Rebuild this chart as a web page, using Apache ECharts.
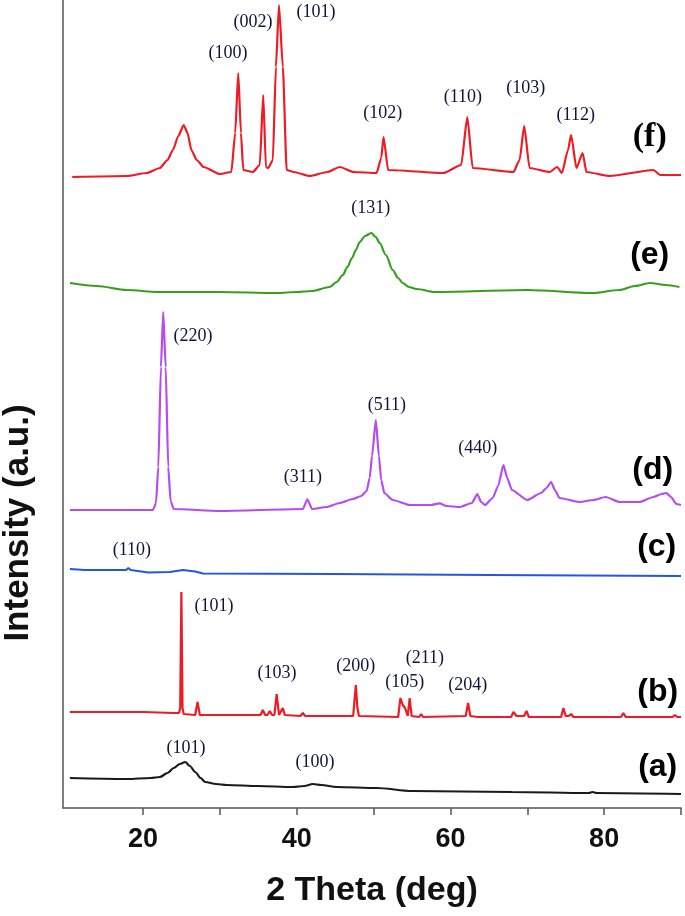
<!DOCTYPE html>
<html><head><meta charset="utf-8">
<script src="https://cdn.jsdelivr.net/npm/echarts@6/dist/echarts.min.js"></script>
<style>html,body{margin:0;padding:0;background:#fff}#c{width:685px;height:916px}</style>
</head><body><div id="c"></div>
<script>
// x-axis tick labels
const xTicks = [20, 30, 40, 50, 60, 70, 80, 90];
const xLabels = [20, 40, 60, 80];

// XRD patterns: [2theta, stacked intensity (a.u.)]
const traceA = [[10.5,30],[17.9,29],[21,30],[22.2,31],[23.2,35],[24,40],[24.8,44],[25.5,46],[26.1,42],[26.8,36],[27.5,30],[28.1,26],[29.5,24],[30.9,23],[35,22],[39.5,21],[41,22],[42.1,24],[43.2,23],[45.2,21],[50.4,20],[55,17],[68,16],[78,15],[78.5,16],[79,15],[90,14]];

const traceB = [[10.5,96],[20,96],[24,95],[24.7,95],[24.85,100],[25.0,216],[25.15,100],[25.3,94],[26.8,93],[27.1,106],[27.4,93],[35.3,93],[35.6,98],[35.9,93],[36.2,93],[36.5,97],[36.8,93],[37.1,93],[37.4,114],[37.7,93],[37.95,93],[38.2,100],[38.45,93],[40.5,92],[40.8,95],[41.1,92],[47.35,92],[47.7,123],[47.9,100],[48.1,92],[53.2,91],[53.5,110],[53.8,103],[54.1,100],[54.45,92],[54.7,110],[54.95,92],[55.95,91],[56.2,94],[56.45,91],[62.0,92],[62.3,105],[62.6,92],[63.5,91],[63.7,93],[63.9,91],[67.9,91],[68.2,96],[68.6,92],[69.6,92],[69.9,97],[70.2,91],[74.4,91],[74.7,100],[75.0,92],[75.4,92],[75.7,94],[76.0,91],[82.2,91],[82.5,95],[82.8,91],[88.9,91],[89.2,93],[89.5,91],[90,91]];

const traceC = [[10.5,239],[12.4,238],[17.8,238],[18.1,240],[18.4,238],[20.7,235.5],[23.5,236],[25.2,238],[26.8,236.5],[27.8,234.5],[45,234],[45.2,233.5],[65,233],[65.2,232],[90,232]];

const traceD = [[10.5,298],[15,298],[21.3,298],[21.7,305],[22.0,341],[22.34,441],[22.64,496],[22.96,441],[23.29,341],[23.6,307],[24.0,299],[30,297],[40.8,299],[41.4,308.7],[42.0,299],[43.9,301],[45.6,305],[47.3,309],[48.4,312],[49.1,317],[49.5,330],[49.8,352],[50.3,388],[50.7,352],[51.0,328],[51.4,315],[52.5,308],[54.7,303],[57.5,303],[58.6,304.7],[59.5,302],[61.2,301],[62.8,305],[63.5,314],[64.0,306],[64.5,303],[65.5,310],[66.2,322],[66.9,343],[67.4,330],[68.0,318],[70.0,308],[71.8,315],[72.5,320],[73.1,326],[73.6,318],[74.2,310],[76.8,306],[78.6,308],[80.2,311],[82.0,306],[84.6,306],[86.4,311],[87.5,314],[88.1,315],[88.7,311],[89.4,304],[90,303]];

const traceE = [[10.5,525],[14,522],[17.9,518],[22,516],[30,516],[37.4,515],[40,516],[42,517],[44.3,521],[45.2,526],[46,533],[46.6,541],[47.2,550],[47.7,558],[48.2,566],[48.9,572],[49.7,575],[50.3,571],[50.8,565],[51.6,553],[52.5,538],[53.2,530],[53.8,525],[54.6,521],[55.6,519],[58,516],[70,518],[78.5,515],[82,518],[84,522],[86,525],[88,523],[89.8,521]];

const traceF = [[10.8,631],[17.9,632],[20.5,635],[22.2,640],[23.2,648],[23.9,658],[24.6,672],[25.3,683],[25.8,675],[26.3,658],[27.0,648],[27.9,641],[30.0,634],[31.5,636],[32.0,675],[32.4,735],[32.75,675],[33.05,638],[34.3,636],[35.2,643],[35.65,713],[36.0,641],[36.3,640],[36.9,648],[37.3,741],[37.7,803],[38.2,741],[38.7,638],[39.6,636],[41.7,632],[44,636],[45.6,641],[47.4,636],[50.4,635],[51.0,650],[51.3,671],[51.9,638],[59.1,635],[61.4,643],[62.2,691],[62.9,640],[68.2,636],[69.0,648],[69.6,682],[70.3,640],[72.9,636],[73.9,641],[74.5,635],[75.3,658],[75.7,673],[76.4,640],[77.2,655],[77.7,636],[80.7,632],[86.4,638],[87.3,633],[90,633]];

// peak index annotations: [text, 2theta, intensity]
const hklLabels = [
  ['(100)',31.06,755],['(002)',34.31,786],['(101)',42.5,796],['(102)',51.21,695],['(110)',61.62,711],['(103)',69.81,720],['(112)',76.31,693],
  ['(131)',49.65,600],
  ['(220)',26.5,472],['(311)',40.81,331],['(511)',51.73,403],['(440)',63.57,360],
  ['(110)',18.57,258],
  ['(101)',29.24,202],['(103)',37.43,135],['(200)',47.7,142],['(105)',54.07,126],['(211)',56.67,150],['(204)',62.27,123],
  ['(101)',25.59,60],['(100)',42.37,46]
];
// panel letters: [text, 2theta, intensity]
const serifPanel = [['(f)',85.93,671]];
const sansPanels = [['(e)',85.93,553],['(d)',86.32,338],['(c)',86.84,261],['(b)',86.97,116],['(a)',86.97,41]];

const traces = [
  {name:'a', data:traceA, color:'#1a1a1a', smooth:0.3},
  {name:'b', data:traceB, color:'#ee1b24', smooth:0},
  {name:'c', data:traceC, color:'#2356e6', smooth:0},
  {name:'d', data:traceD, color:'#b64cf0', smooth:0.2},
  {name:'e', data:traceE, color:'#35a01e', smooth:0.3},
  {name:'f', data:traceF, color:'#ee1b24', smooth:0.2}
];

const chart = echarts.init(document.getElementById('c'), null, {renderer:'canvas'});
const series = traces.map(t => ({
  type:'line', name:t.name, data:t.data, showSymbol:false, symbol:'none',
  smooth:t.smooth, smoothMonotone:'x',
  lineStyle:{color:t.color, width:2.2}, animation:false, z:2
}));
const sans = '"Liberation Sans", Arial, sans-serif';
const serif = '"Liberation Serif", "Times New Roman", serif';

chart.setOption({
  backgroundColor:'#fff',
  animation:false,
  grid:{left:63, right:4, top:0, bottom:108, containLabel:false},
  xAxis:{
    type:'value', min:9.6, max:90,
    axisLine:{show:true, lineStyle:{color:'#555', width:1.5}},
    axisTick:{show:true, customValues:xTicks, length:7, lineStyle:{color:'#555', width:1.5}},
    axisLabel:{customValues:xLabels, margin:18, fontSize:27, fontWeight:'bold', color:'#111', fontFamily:sans},
    splitLine:{show:false},
    name:'2 Theta (deg)', nameLocation:'middle', nameGap:66,
    nameTextStyle:{fontSize:34, fontWeight:'bold', color:'#111', fontFamily:sans}
  },
  yAxis:{
    type:'value', min:0, max:808,
    axisLine:{show:true, lineStyle:{color:'#555', width:1.5}},
    axisTick:{show:false}, axisLabel:{show:false}, splitLine:{show:false}
  },
  series:series
});

// text annotations placed through the chart's own coordinate conversion
function textEls(list, style) {
  return list.map(l => {
    const p = chart.convertToPixel({gridIndex:0}, [l[1], l[2]]);
    return {type:'text', x:p[0], y:p[1], z:10, silent:true,
      style:Object.assign({text:l[0], align:'center', verticalAlign:'middle'}, style)};
  });
}
const graphics = [].concat(
  textEls(hklLabels, {font:'18px ' + serif, fill:'#10143a'}),
  textEls(serifPanel, {font:'bold 34px ' + serif, fill:'#000'}),
  textEls(sansPanels, {font:'bold 32px ' + sans, fill:'#000'}),
  [{type:'text', x:18, y:523, rotation:Math.PI/2, z:10, silent:true,
    style:{text:'Intensity (a.u.)', font:'bold 35px ' + sans, fill:'#111', align:'center', verticalAlign:'middle'}}]
);
chart.setOption({graphic:graphics});
</script></body></html>
